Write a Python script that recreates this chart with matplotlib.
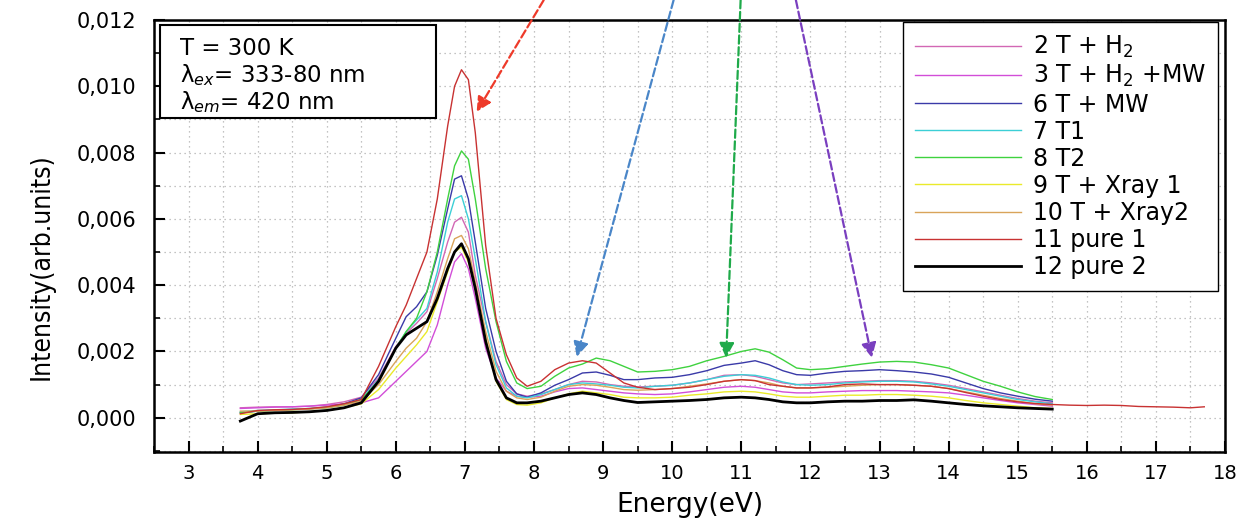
import numpy as np
import matplotlib
matplotlib.use("Agg")
import matplotlib.pyplot as plt
from matplotlib.patches import Rectangle
from matplotlib.ticker import MultipleLocator, FuncFormatter

# energy grid shared by the spectra (eV)
energy = [3.75, 4.0, 4.25, 4.5, 4.75, 5.0, 5.25, 5.5, 5.75, 6.0, 6.15, 6.3, 6.45, 6.6,
          6.75, 6.85, 6.95, 7.05, 7.15, 7.3, 7.45, 7.6, 7.75, 7.9, 8.1, 8.3, 8.5, 8.7,
          8.9, 9.1, 9.3, 9.5, 9.75, 10.0, 10.25, 10.5, 10.75, 11.0, 11.2, 11.4, 11.6,
          11.8, 12.0, 12.25, 12.5, 12.75, 13.0, 13.25, 13.5, 13.75, 14.0, 14.25, 14.5,
          14.75, 15.0, 15.25, 15.5]
energy_tail = [15.75, 16.0, 16.25, 16.5, 16.75, 17.0, 17.25, 17.5, 17.7]

# intensities in units of 1e-3 arb. units
t_h2 = [0.3, 0.32, 0.33, 0.33, 0.35, 0.4, 0.48, 0.62, 1.2, 2.15, 2.55, 2.85, 3.2, 4.2,
        5.3, 5.9, 6.05, 5.6, 4.3, 2.9, 1.7, 1.0, 0.72, 0.65, 0.72, 0.85, 1.0, 1.1,
        1.08, 1.0, 0.95, 0.93, 0.95, 0.98, 1.05, 1.15, 1.28, 1.3, 1.25, 1.15, 1.05,
        1.0, 1.02, 1.05, 1.08, 1.1, 1.12, 1.12, 1.1, 1.05, 0.98, 0.88, 0.78,
        0.68, 0.58, 0.5, 0.45]
t_h2_mw = [0.28, 0.3, 0.32, 0.33, 0.35, 0.38, 0.42, 0.45, 0.6, 1.1, 1.4, 1.7, 2.0, 2.8,
           4.0, 4.7, 4.95, 4.5, 3.6, 2.1, 1.2, 0.8, 0.65, 0.62, 0.65, 0.78, 0.88, 0.9,
           0.85, 0.8, 0.75, 0.72, 0.7, 0.72, 0.78, 0.85, 0.92, 0.95, 0.92, 0.85, 0.78,
           0.75, 0.75, 0.78, 0.8, 0.82, 0.82, 0.82, 0.8, 0.78, 0.75, 0.68, 0.6,
           0.52, 0.45, 0.4, 0.35]
t_mw = [0.15, 0.2, 0.23, 0.25, 0.27, 0.32, 0.42, 0.6, 1.3, 2.4, 3.05, 3.35, 3.8, 4.9,
        6.3, 7.2, 7.3, 6.6, 5.3, 3.3, 2.0, 1.1, 0.72, 0.62, 0.75, 0.98, 1.15, 1.35,
        1.38, 1.28, 1.15, 1.15, 1.2, 1.22, 1.3, 1.42, 1.58, 1.65, 1.72, 1.6, 1.42,
        1.3, 1.28, 1.35, 1.4, 1.42, 1.45, 1.42, 1.38, 1.32, 1.22, 1.05, 0.88,
        0.75, 0.65, 0.56, 0.5]
t1 = [0.18, 0.22, 0.24, 0.26, 0.28, 0.32, 0.4, 0.55, 1.15, 2.1, 2.6, 2.95, 3.3, 4.4,
      5.9, 6.6, 6.7, 6.0, 4.8, 2.9, 1.6, 0.9, 0.65, 0.6, 0.7, 0.85, 1.0, 1.05,
      1.02, 0.98, 0.92, 0.9, 0.95, 0.98, 1.05, 1.15, 1.25, 1.3, 1.28, 1.2, 1.08,
      1.0, 0.98, 1.0, 1.05, 1.08, 1.1, 1.1, 1.08, 1.02, 0.95, 0.85, 0.75,
      0.65, 0.55, 0.48, 0.42]
t2 = [0.15, 0.2, 0.22, 0.24, 0.27, 0.3, 0.38, 0.55, 1.1, 2.1, 2.6, 3.0, 3.8, 5.0,
      6.6, 7.6, 8.05, 7.8, 6.6, 4.5, 2.9, 1.7, 1.05, 0.88, 0.95, 1.25, 1.5, 1.62,
      1.8, 1.72, 1.55, 1.38, 1.4, 1.45, 1.55, 1.72, 1.85, 2.0, 2.08, 1.98, 1.75,
      1.5, 1.45, 1.48, 1.55, 1.62, 1.68, 1.7, 1.68, 1.6, 1.5, 1.3, 1.1,
      0.95, 0.78, 0.64, 0.55]
t_xray1 = [0.1, 0.12, 0.14, 0.15, 0.18, 0.22, 0.3, 0.42, 0.85, 1.5, 1.85, 2.2, 2.6, 3.5,
           4.4, 5.0, 5.15, 4.7, 3.9, 2.4, 1.1, 0.55, 0.4, 0.38, 0.45, 0.6, 0.72, 0.8,
           0.75, 0.7, 0.62, 0.6, 0.6, 0.62, 0.68, 0.72, 0.78, 0.8, 0.78, 0.72, 0.65,
           0.62, 0.62, 0.65, 0.68, 0.68, 0.7, 0.7, 0.68, 0.65, 0.6, 0.52, 0.45,
           0.4, 0.35, 0.3, 0.28]
t_xray2 = [0.2, 0.2, 0.22, 0.24, 0.26, 0.3, 0.38, 0.5, 1.0, 1.7, 2.1, 2.4, 2.9, 3.8,
           4.8, 5.4, 5.5, 5.1, 4.1, 2.6, 1.4, 0.8, 0.6, 0.55, 0.62, 0.8, 0.95, 1.0,
           0.98, 0.92, 0.85, 0.83, 0.85, 0.88, 0.95, 1.02, 1.1, 1.15, 1.12, 1.05, 0.95,
           0.9, 0.9, 0.92, 0.95, 0.98, 1.0, 1.0, 0.98, 0.95, 0.88, 0.78, 0.68,
           0.58, 0.5, 0.42, 0.38]
pure1 = [0.12, 0.22, 0.24, 0.25, 0.28, 0.33, 0.42, 0.55, 1.55, 2.75, 3.4, 4.2, 5.0, 6.6,
         8.8, 10.0, 10.5, 10.2, 8.6, 5.2, 3.0, 1.9, 1.2, 0.95, 1.1, 1.45, 1.65, 1.72,
         1.65, 1.35, 1.05, 0.92, 0.85, 0.88, 0.92, 1.0, 1.1, 1.15, 1.12, 1.0, 0.95,
         0.9, 0.9, 0.93, 1.0, 1.02, 1.0, 1.0, 0.98, 0.95, 0.88, 0.76, 0.65,
         0.55, 0.48, 0.43, 0.4]
pure1_tail = [0.38, 0.37, 0.38, 0.37, 0.34, 0.33, 0.32, 0.3, 0.33]
pure2 = [-0.1, 0.12, 0.15, 0.16, 0.18, 0.22, 0.3, 0.45, 1.1, 2.1, 2.5, 2.7, 2.9, 3.6,
         4.5, 5.0, 5.25, 4.8, 3.9, 2.3, 1.15, 0.6, 0.45, 0.45, 0.5, 0.6, 0.7, 0.75,
         0.7, 0.6, 0.52, 0.46, 0.48, 0.5, 0.52, 0.55, 0.6, 0.62, 0.6, 0.55, 0.48,
         0.45, 0.45, 0.48, 0.5, 0.5, 0.52, 0.52, 0.54, 0.5, 0.45, 0.4, 0.36,
         0.33, 0.3, 0.28, 0.26]

labels = ["2 T + H$_2$", "3 T + H$_2$ +MW", "6 T + MW", "7 T1", "8 T2",
          "9 T + Xray 1", "10 T + Xray2", "11 pure 1", "12 pure 2"]
colors = ["#d267b4", "#d24ed8", "#3a3aa8", "#3ccfd6", "#3fd23f",
          "#eaea2a", "#d9a45a", "#c83232", "#000000"]

info_lines = ["T = 300 K", "λ$_{ex}$= 333-80 nm", "λ$_{em}$= 420 nm"]

# arrows: start energy (top of figure), tip energy and tip intensity (1e-3)
arrow_colors = ["#ee3a2a", "#4a86c8", "#1faa4a", "#7a3fbf"]
arrow_start_e = [8.14, 10.02, 10.99, 11.79]
arrow_tip_e = [7.17, 8.62, 10.78, 12.89]
arrow_tip_i = [9.23, 1.84, 1.81, 1.81]

plt.rcParams["font.family"] = ["DejaVu Sans"]
plt.rcParams["mathtext.fontset"] = "dejavusans"

fig = plt.figure(figsize=(12.55, 5.2), dpi=100)
ax = fig.add_axes([0.1227, 0.131, 0.8534, 0.8305])

series = [t_h2, t_h2_mw, t_mw, t1, t2, t_xray1, t_xray2, pure1, pure2]
x = np.array(energy)
for vals, lab, col in zip(series, labels, colors):
    lw = 2.0 if col == "#000000" else 1.0
    xs, ys = x, np.array(vals)
    if lab == "11 pure 1":
        xs = np.concatenate([x, energy_tail])
        ys = np.concatenate([ys, pure1_tail])
    ax.plot(xs, ys * 1e-3, color=col, lw=lw, label=lab)

ax.set_xlim(2.5, 18.0)
ax.set_ylim(-0.00103, 0.012)
ax.xaxis.set_major_locator(MultipleLocator(1))
ax.xaxis.set_minor_locator(MultipleLocator(0.5))
ax.yaxis.set_major_locator(MultipleLocator(0.002))
ax.yaxis.set_minor_locator(MultipleLocator(0.001))
ax.yaxis.set_major_formatter(FuncFormatter(lambda v, p: f"{v:.3f}".replace(".", ",").replace("-", "")))
ax.tick_params(which="major", direction="in", length=8, width=1.5, labelsize=14)
ax.tick_params(axis="y", labelsize=15, pad=13)
ax.tick_params(axis="x", pad=9)
ax.tick_params(which="minor", direction="in", length=4, width=1.2)
ax.grid(True, which="both", color="#b0b0b0", linestyle=(0, (1, 3)), lw=0.9)
for s in ax.spines.values():
    s.set_linewidth(1.8)

ax.set_xlabel("Energy(eV)", fontsize=19, labelpad=6)
ax.set_ylabel("Intensity(arb.units)", fontsize=19, fontstretch="condensed",
              family=["DejaVu Sans Condensed", "DejaVu Sans"])
ax.yaxis.set_label_coords(-0.093, 0.43)

# info box in the upper left corner
ax.add_patch(Rectangle((0.0056, 0.773), 0.258, 0.215, transform=ax.transAxes,
                       fc="white", ec="black", lw=1.5, zorder=5))
for i, line in enumerate(info_lines):
    ax.text(0.024, 0.935 - i * 0.062, line, transform=ax.transAxes, va="center",
            ha="left", fontsize=16.5, zorder=6)

leg = ax.legend(loc="upper right", bbox_to_anchor=(0.9935, 0.995), fontsize=17,
                handlelength=4.5, handletextpad=0.5, labelspacing=0.13, borderpad=0.5,
                fancybox=False, framealpha=1, edgecolor="black", borderaxespad=0)
leg.get_frame().set_linewidth(1.0)

for c, se, te, ti in zip(arrow_colors, arrow_start_e, arrow_tip_e, arrow_tip_i):
    ax.annotate("", xy=(te, ti * 1e-3), xytext=(se, 0.0126), annotation_clip=False,
                arrowprops=dict(arrowstyle="-|>", color=c, lw=1.6, linestyle="--",
                                mutation_scale=22, shrinkA=0, shrinkB=0))

fig.savefig("out.png", dpi=100)
